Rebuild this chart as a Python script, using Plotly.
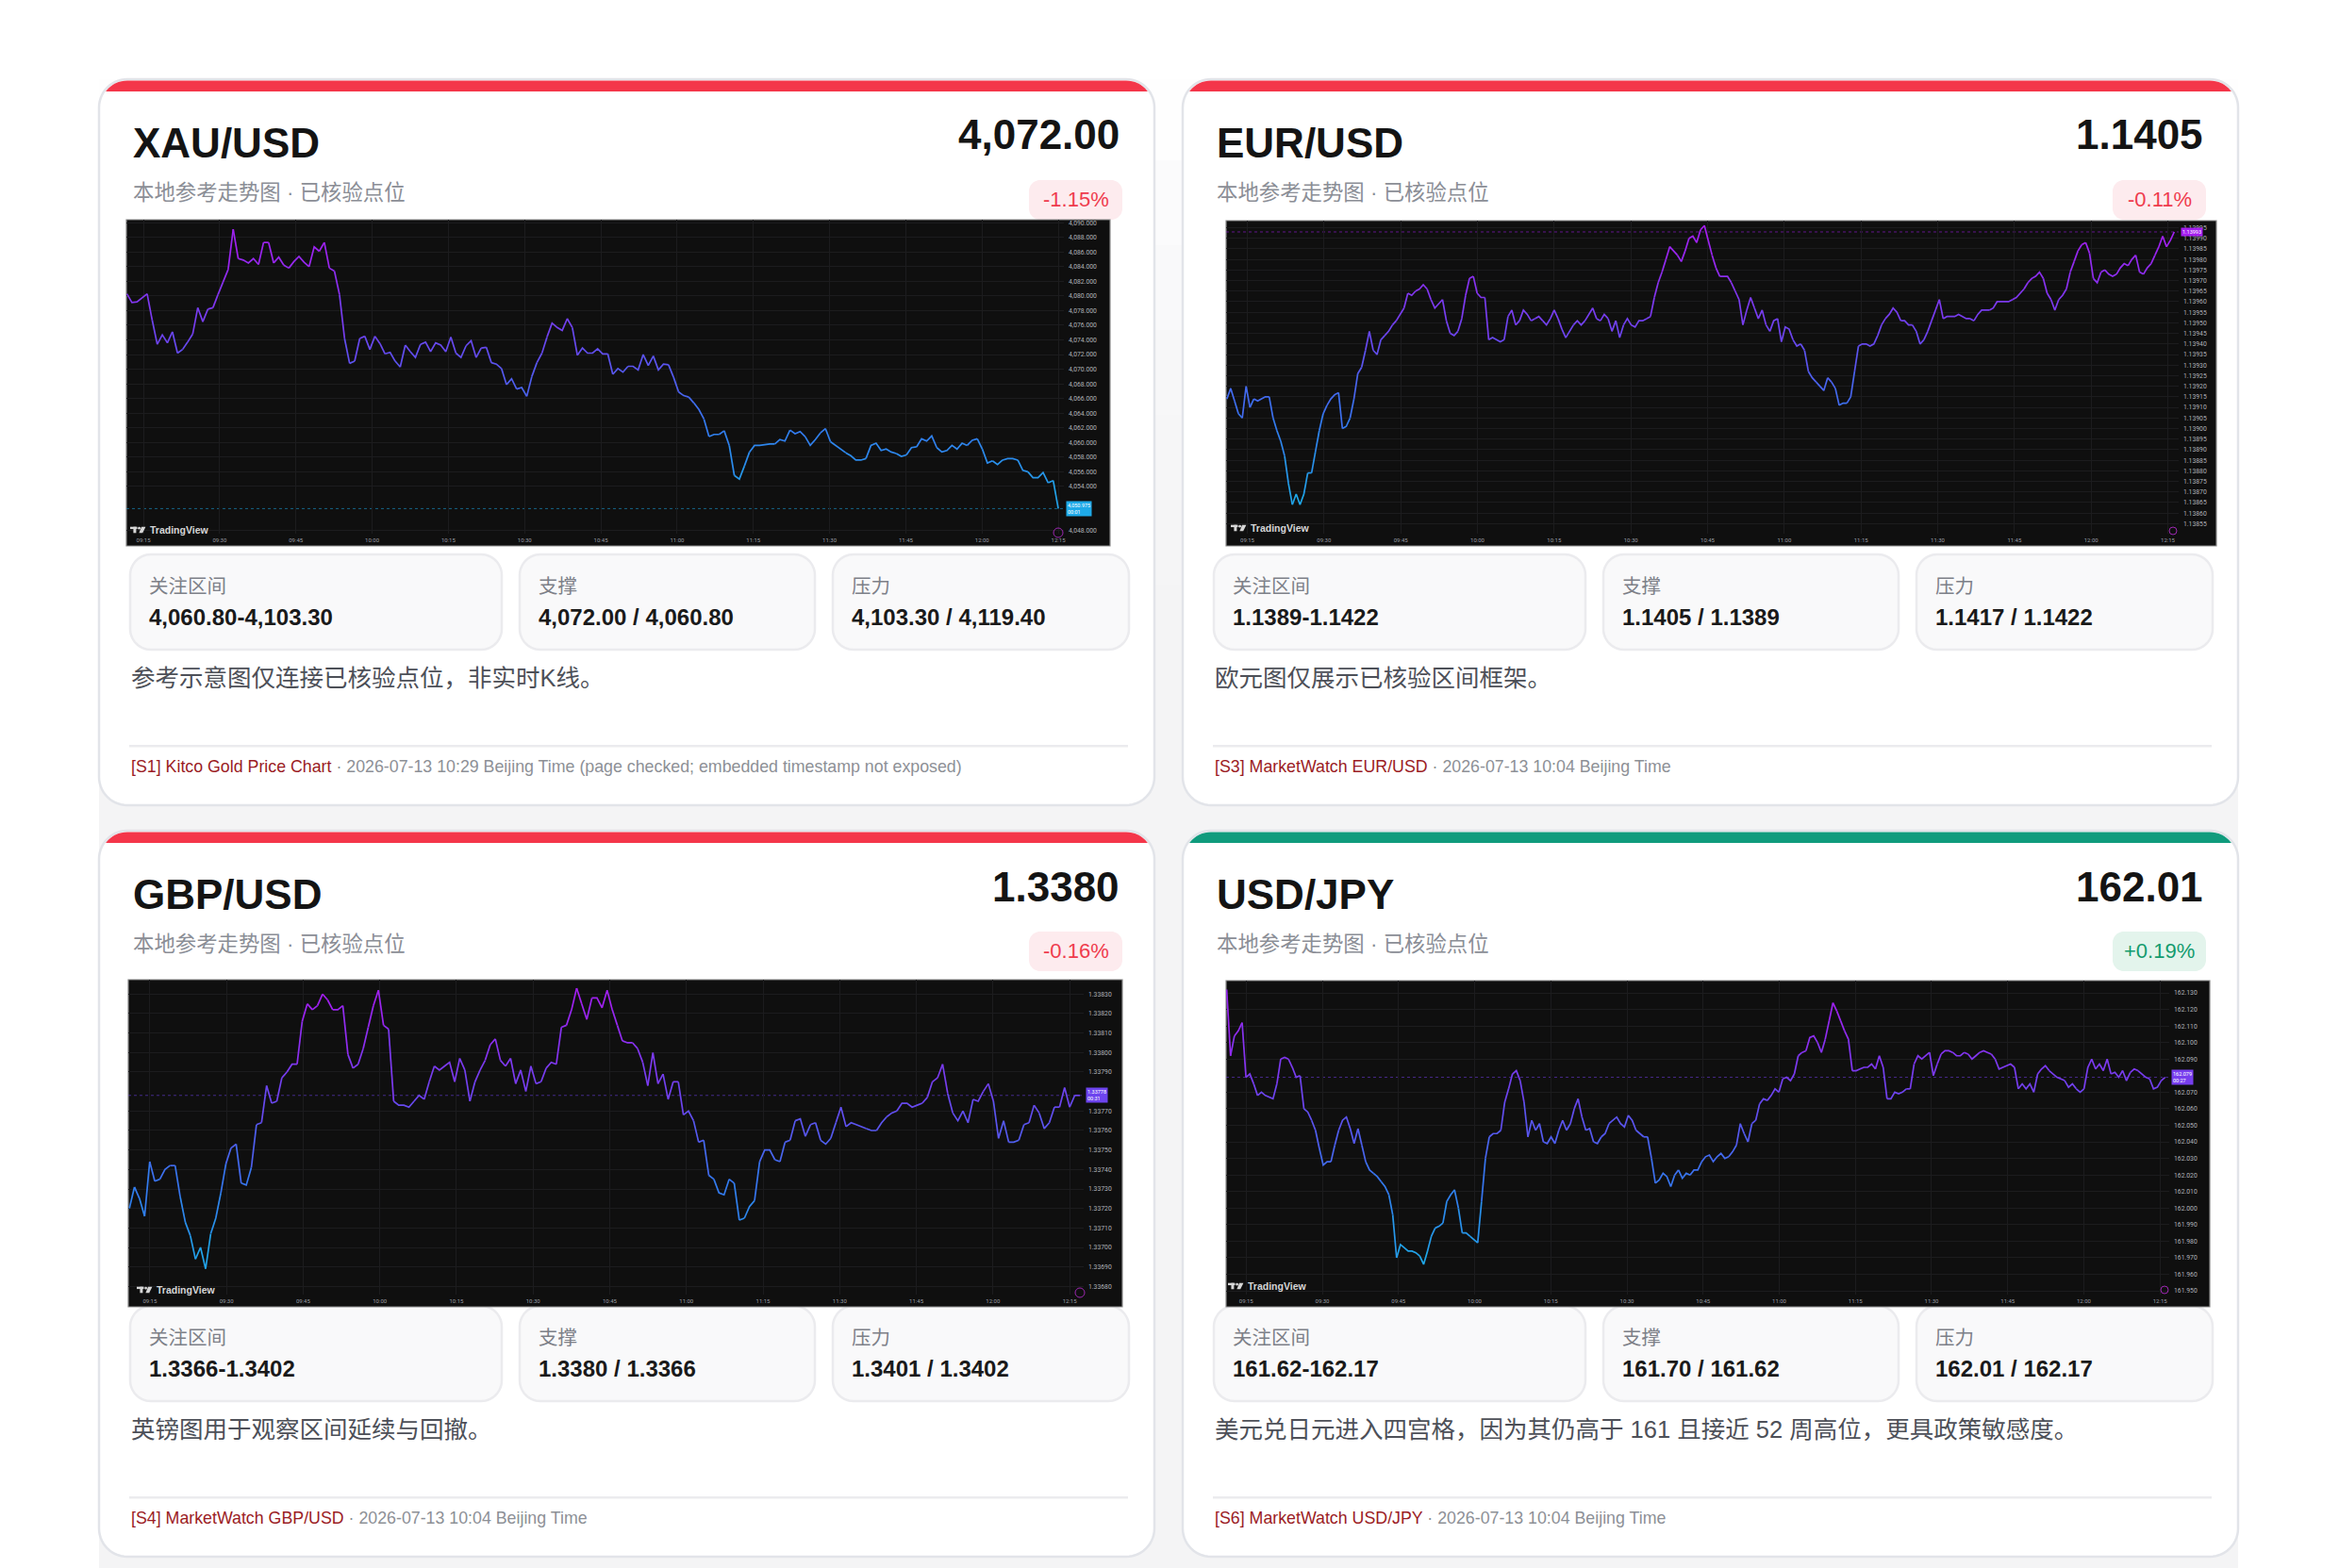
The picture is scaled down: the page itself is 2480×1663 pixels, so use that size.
import numpy as np
import pandas as pd
import plotly.graph_objects as go

W, H = 2480, 1663

# ------------------------------------------------------------------ data
pair_names = ["XAU/USD", "EUR/USD", "GBP/USD", "USD/JPY"]
last_prices = ["4,072.00", "1.1405", "1.3380", "162.01"]
change_pcts = ["-1.15%", "-0.11%", "-0.16%", "+0.19%"]
subtitle_text = "本地参考走势图 · 已核验点位"
metric_names = ["关注区间", "支撑", "压力"]
focus_ranges = ["4,060.80-4,103.30", "1.1389-1.1422", "1.3366-1.3402", "161.62-162.17"]
support_levels = ["4,072.00 / 4,060.80", "1.1405 / 1.1389", "1.3380 / 1.3366", "161.70 / 161.62"]
resistance_levels = ["4,103.30 / 4,119.40", "1.1417 / 1.1422", "1.3401 / 1.3402", "162.01 / 162.17"]
notes = [
    "参考示意图仅连接已核验点位，非实时K线。",
    "欧元图仅展示已核验区间框架。",
    "英镑图用于观察区间延续与回撤。",
    "美元兑日元进入四宫格，因为其仍高于 161 且接近 52 周高位，更具政策敏感度。",
]
source_names = ["[S1] Kitco Gold Price Chart", "[S3] MarketWatch EUR/USD",
                "[S4] MarketWatch GBP/USD", "[S6] MarketWatch USD/JPY"]
source_times = ["2026-07-13 10:29 Beijing Time (page checked; embedded timestamp not exposed)",
                "2026-07-13 10:04 Beijing Time", "2026-07-13 10:04 Beijing Time",
                "2026-07-13 10:04 Beijing Time"]
countdowns = ["00:01", "", "00:31", "00:27"]

xau_prices = [
    4080.3, 4079.1, 4079.2, 4079.7, 4080.3, 4076.7, 4073.4, 4074.7, 4073.6, 4075.1,
    4072.2, 4072.7, 4073.7, 4074.8, 4078.4, 4076.5, 4078.2, 4078.4, 4080.2, 4081.9,
    4083.6, 4089.1, 4085.1, 4084.9, 4084.5, 4085.1, 4084.3, 4087.3, 4087.3, 4084.5,
    4085.3, 4084.2, 4083.8, 4084.7, 4085.4, 4084.6, 4084.0, 4086.7, 4086.1, 4087.3,
    4083.8, 4083.4, 4080.2, 4074.2, 4070.8, 4071.1, 4074.2, 4074.5, 4072.7, 4074.5,
    4073.5, 4072.1, 4072.3, 4071.1, 4070.3, 4073.3, 4072.4, 4071.6, 4073.4, 4073.7,
    4072.4, 4073.6, 4073.3, 4072.4, 4074.4, 4072.2, 4071.6, 4073.2, 4073.9, 4071.6,
    4072.9, 4073.0, 4070.9, 4070.7, 4070.1, 4067.9, 4068.7, 4067.3, 4067.5, 4066.3,
    4069.0, 4070.9, 4072.2, 4074.4, 4076.3, 4075.7, 4075.3, 4076.9, 4075.7, 4071.9,
    4072.9, 4072.2, 4072.2, 4072.8, 4072.1, 4072.1, 4069.3, 4070.1, 4069.6, 4070.4,
    4070.4, 4069.9, 4072.0, 4070.5, 4071.8, 4069.9, 4070.7, 4070.6, 4068.9, 4066.9,
    4066.4, 4066.2, 4065.4, 4064.5, 4063.2, 4060.8, 4061.1, 4061.1, 4061.6, 4059.6,
    4055.5, 4055.0, 4056.8, 4058.7, 4059.6, 4059.6, 4059.7, 4059.8, 4059.8, 4060.4,
    4060.2, 4061.7, 4061.2, 4061.5, 4060.8, 4059.6, 4060.4, 4061.3, 4061.9, 4060.1,
    4059.6, 4059.0, 4058.6, 4058.2, 4057.6, 4057.6, 4057.8, 4059.6, 4059.9, 4058.9,
    4059.1, 4058.7, 4058.5, 4058.1, 4058.3, 4059.3, 4059.4, 4060.5, 4060.2, 4060.9,
    4059.3, 4058.7, 4058.9, 4059.6, 4059.1, 4059.9, 4059.6, 4060.3, 4060.5, 4059.1,
    4057.2, 4057.5, 4057.0, 4057.6, 4057.8, 4057.8, 4057.6, 4056.2, 4056.0, 4055.2,
    4055.2, 4055.9, 4054.5, 4054.8, 4050.975,
]

eur_prices = [
    1.13914, 1.13919, 1.13913, 1.13907, 1.13905, 1.13920, 1.13910, 1.13914, 1.13913, 1.13914,
    1.13915, 1.13915, 1.13905, 1.13899, 1.13894, 1.13887, 1.13874, 1.13864, 1.13869, 1.13864,
    1.13869, 1.13879, 1.13879, 1.13889, 1.13899, 1.13907, 1.13911, 1.13914, 1.13916, 1.13917,
    1.13900, 1.13901, 1.13905, 1.13914, 1.13926, 1.13929, 1.13937, 1.13946, 1.13937, 1.13935,
    1.13942, 1.13944, 1.13946, 1.13949, 1.13951, 1.13954, 1.13957, 1.13964, 1.13963, 1.13965,
    1.13966, 1.13968, 1.13966, 1.13961, 1.13957, 1.13959, 1.13961, 1.13951, 1.13945, 1.13944,
    1.13946, 1.13952, 1.13963, 1.13971, 1.13972, 1.13964, 1.13962, 1.13962, 1.13942, 1.13943,
    1.13942, 1.13941, 1.13942, 1.13953, 1.13956, 1.13949, 1.13951, 1.13956, 1.13954, 1.13951,
    1.13952, 1.13953, 1.13951, 1.13949, 1.13952, 1.13956, 1.13952, 1.13947, 1.13943, 1.13946,
    1.13949, 1.13951, 1.13949, 1.13951, 1.13954, 1.13957, 1.13952, 1.13951, 1.13954, 1.13952,
    1.13946, 1.13951, 1.13943, 1.13949, 1.13952, 1.13949, 1.13948, 1.13951, 1.13951, 1.13952,
    1.13953, 1.13962, 1.13969, 1.13974, 1.13980, 1.13986, 1.13984, 1.13982, 1.13979, 1.13984,
    1.13990, 1.13991, 1.13988, 1.13994, 1.13996, 1.13989, 1.13982, 1.13976, 1.13972, 1.13972,
    1.13972, 1.13969, 1.13965, 1.13961, 1.13949, 1.13956, 1.13962, 1.13957, 1.13952, 1.13956,
    1.13949, 1.13946, 1.13951, 1.13952, 1.13941, 1.13948, 1.13947, 1.13942, 1.13939, 1.13940,
    1.13937, 1.13927, 1.13924, 1.13922, 1.13920, 1.13918, 1.13924, 1.13922, 1.13919, 1.13911,
    1.13912, 1.13912, 1.13915, 1.13927, 1.13939, 1.13940, 1.13940, 1.13939, 1.13940, 1.13944,
    1.13949, 1.13952, 1.13954, 1.13957, 1.13955, 1.13951, 1.13951, 1.13949, 1.13949, 1.13946,
    1.13940, 1.13942, 1.13946, 1.13951, 1.13956, 1.13961, 1.13952, 1.13953, 1.13953, 1.13953,
    1.13954, 1.13953, 1.13952, 1.13952, 1.13951, 1.13954, 1.13956, 1.13956, 1.13956, 1.13957,
    1.13960, 1.13960, 1.13960, 1.13960, 1.13961, 1.13962, 1.13964, 1.13966, 1.13969, 1.13971,
    1.13972, 1.13974, 1.13971, 1.13964, 1.13961, 1.13956, 1.13961, 1.13963, 1.13966, 1.13974,
    1.13979, 1.13984, 1.13987, 1.13988, 1.13983, 1.13971, 1.13969, 1.13974, 1.13975, 1.13973,
    1.13972, 1.13973, 1.13976, 1.13978, 1.13977, 1.13980, 1.13982, 1.13974, 1.13973, 1.13976,
    1.13978, 1.13982, 1.13986, 1.13991, 1.13986, 1.13989, 1.13993,
]

gbp_prices = [
    1.33720, 1.33731, 1.33725, 1.33716, 1.33744, 1.33734, 1.33735, 1.33740, 1.33742, 1.33742,
    1.33726, 1.33713, 1.33706, 1.33694, 1.33700, 1.33689, 1.33707, 1.33715, 1.33728, 1.33743,
    1.33751, 1.33753, 1.33733, 1.33732, 1.33741, 1.33763, 1.33764, 1.33783, 1.33774, 1.33775,
    1.33787, 1.33790, 1.33794, 1.33794, 1.33816, 1.33825, 1.33822, 1.33824, 1.33830, 1.33827,
    1.33822, 1.33822, 1.33824, 1.33799, 1.33792, 1.33794, 1.33802, 1.33813, 1.33824, 1.33832,
    1.33814, 1.33812, 1.33775, 1.33773, 1.33773, 1.33772, 1.33775, 1.33778, 1.33776, 1.33785,
    1.33793, 1.33791, 1.33793, 1.33795, 1.33785, 1.33797, 1.33791, 1.33775, 1.33785, 1.33791,
    1.33796, 1.33804, 1.33807, 1.33796, 1.33793, 1.33797, 1.33784, 1.33791, 1.33780, 1.33793,
    1.33784, 1.33785, 1.33792, 1.33795, 1.33794, 1.33813, 1.33814, 1.33822, 1.33833, 1.33825,
    1.33817, 1.33828, 1.33828, 1.33823, 1.33832, 1.33822, 1.33814, 1.33806, 1.33805, 1.33805,
    1.33802, 1.33795, 1.33783, 1.33800, 1.33784, 1.33789, 1.33776, 1.33785, 1.33785, 1.33768,
    1.33770, 1.33765, 1.33754, 1.33755, 1.33737, 1.33735, 1.33728, 1.33727, 1.33735, 1.33733,
    1.33714, 1.33715, 1.33721, 1.33724, 1.33744, 1.33750, 1.33750, 1.33745, 1.33744, 1.33754,
    1.33755, 1.33765, 1.33766, 1.33757, 1.33763, 1.33764, 1.33755, 1.33753, 1.33756, 1.33764,
    1.33772, 1.33762, 1.33764, 1.33763, 1.33762, 1.33761, 1.33760, 1.33760, 1.33764, 1.33767,
    1.33769, 1.33770, 1.33774, 1.33774, 1.33772, 1.33773, 1.33774, 1.33777, 1.33785, 1.33787,
    1.33794, 1.33779, 1.33769, 1.33765, 1.33770, 1.33764, 1.33776, 1.33775, 1.33780, 1.33784,
    1.33775, 1.33756, 1.33765, 1.33754, 1.33754, 1.33755, 1.33763, 1.33764, 1.33773, 1.33769,
    1.33761, 1.33764, 1.33772, 1.33772, 1.33782, 1.33772, 1.33778, 1.33778,
]

jpy_prices = [
    162.132, 162.092, 162.104, 162.107, 162.112, 162.079, 162.081, 162.075, 162.068, 162.070,
    162.068, 162.067, 162.066, 162.075, 162.090, 162.091, 162.090, 162.085, 162.079, 162.080,
    162.060, 162.058, 162.053, 162.047, 162.036, 162.026, 162.028, 162.028, 162.038, 162.047,
    162.053, 162.055, 162.048, 162.039, 162.048, 162.038, 162.028, 162.023, 162.021, 162.019,
    162.016, 162.013, 162.008, 161.996, 161.970, 161.978, 161.976, 161.974, 161.974, 161.973,
    161.971, 161.966, 161.974, 161.983, 161.988, 161.989, 161.991, 162.004, 162.008, 162.011,
    162.000, 161.985, 161.985, 161.983, 161.981, 161.979, 162.004, 162.030, 162.043, 162.045,
    162.045, 162.047, 162.064, 162.072, 162.081, 162.083, 162.077, 162.064, 162.043, 162.053,
    162.047, 162.051, 162.040, 162.039, 162.043, 162.039, 162.047, 162.053, 162.047, 162.051,
    162.060, 162.066, 162.055, 162.047, 162.048, 162.040, 162.039, 162.043, 162.045, 162.051,
    162.053, 162.055, 162.051, 162.049, 162.056, 162.053, 162.047, 162.045, 162.043, 162.043,
    162.030, 162.015, 162.017, 162.021, 162.019, 162.013, 162.020, 162.023, 162.018, 162.021,
    162.020, 162.023, 162.023, 162.028, 162.031, 162.032, 162.028, 162.031, 162.033, 162.030,
    162.031, 162.034, 162.038, 162.051, 162.045, 162.040, 162.051, 162.053, 162.063, 162.066,
    162.065, 162.068, 162.072, 162.070, 162.078, 162.079, 162.077, 162.081, 162.092, 162.094,
    162.095, 162.103, 162.104, 162.100, 162.094, 162.102, 162.113, 162.124, 162.119, 162.113,
    162.107, 162.102, 162.083, 162.083, 162.084, 162.085, 162.085, 162.087, 162.084, 162.092,
    162.085, 162.066, 162.066, 162.070, 162.069, 162.070, 162.072, 162.072, 162.087, 162.092,
    162.090, 162.092, 162.094, 162.080, 162.087, 162.093, 162.095, 162.095, 162.094, 162.092,
    162.092, 162.094, 162.093, 162.090, 162.092, 162.094, 162.095, 162.094, 162.093, 162.090,
    162.084, 162.085, 162.086, 162.087, 162.085, 162.072, 162.075, 162.072, 162.075, 162.070,
    162.081, 162.084, 162.086, 162.083, 162.081, 162.079, 162.078, 162.077, 162.073, 162.075,
    162.072, 162.070, 162.072, 162.085, 162.090, 162.084, 162.087, 162.083, 162.090, 162.081,
    162.082, 162.079, 162.083, 162.077, 162.082, 162.084, 162.083, 162.081, 162.079, 162.078,
    162.072, 162.073, 162.077, 162.079,
]

series_values = [xau_prices, eur_prices, gbp_prices, jpy_prices]
series_windows = [
    ("2026-07-13 09:11:45", "2026-07-13 12:15:00"),
    ("2026-07-13 09:11:00", "2026-07-13 12:16:15"),
    ("2026-07-13 09:11:00", "2026-07-13 12:17:00"),
    ("2026-07-13 09:11:10", "2026-07-13 12:16:00"),
]
first_time_tick = "2026-07-13 09:15:00"
price_formats = [",.3f", ".5f", ".5f", ".3f"]
price_dticks = [2, 0.00005, 0.0001, 0.01]
price_tick0 = [4048, 1.13855, 1.3368, 161.95]
trend_up = [False, False, False, True]

# ------------------------------------------------------------------ geometry (pixels)
FONT = "Liberation Sans, Arial, Noto Sans CJK SC, sans-serif"
BASE = pd.Timestamp(first_time_tick)

cards = [(105, 84, 1224, 854), (1254, 84, 2373, 854),
         (105, 881, 1224, 1651), (1254, 881, 2373, 1651)]
row_off = [0, 0, 797, 797]

chart_geo = [
    dict(box=(134, 233, 1177, 579), dom_r=1128, dom_b=566, x915=152.0, ppm=5.389,
         vref=4090.0, yref=236.2, ppv=7.77, logo=(138, 562), bolt=(1122, 565, 5)),
    dict(box=(1300, 234, 2350, 579), dom_r=2310, dom_b=566, x915=1322.5, ppm=5.422,
         vref=1.13995, yref=241.5, ppv=224200.0, logo=(1305, 560), bolt=(2304, 563, 4)),
    dict(box=(136, 1039, 1190, 1386), dom_r=1149, dom_b=1373, x915=158.8, ppm=5.418,
         vref=1.33830, yref=1054.3, ppv=206700.0, logo=(145, 1368), bolt=(1145, 1371, 5)),
    dict(box=(1300, 1040, 2343, 1386), dom_r=2300, dom_b=1373, x915=1321.2, ppm=5.383,
         vref=162.130, yref=1053.0, ppv=1756.0, logo=(1302, 1364), bolt=(2295, 1368, 4)),
]


def X(px):
    return px / W


def Y(py):
    return 1.0 - py / H


def path_from(pts):
    return "M " + " L ".join(f"{X(x):.6f},{Y(y):.6f}" for x, y in pts) + " Z"


def rounded_pts(x0, y0, x1, y1, r, n=14):
    pts = []
    for cx, cy, a0 in ((x1 - r, y0 + r, -90), (x1 - r, y1 - r, 0),
                       (x0 + r, y1 - r, 90), (x0 + r, y0 + r, 180)):
        for k in range(n + 1):
            a = np.radians(a0 + 90.0 * k / n)
            pts.append((cx + r * np.cos(a), cy + r * np.sin(a)))
    return pts


def clip_above(pts, yb):
    out = []
    n = len(pts)
    for i in range(n):
        p, q = pts[i], pts[(i + 1) % n]
        pin, qin = p[1] <= yb, q[1] <= yb
        if pin:
            out.append(p)
        if pin != qin:
            t = (yb - p[1]) / (q[1] - p[1])
            out.append((p[0] + t * (q[0] - p[0]), yb))
    return out


STOPS = [(0.0, (30, 170, 232)), (0.3, (52, 120, 238)), (0.6, (106, 70, 238)), (1.0, (168, 28, 240))]


def grad(t):
    t = min(max(t, 0.0), 1.0)
    for (t0, c0), (t1, c1) in zip(STOPS[:-1], STOPS[1:]):
        if t <= t1:
            f = (t - t0) / (t1 - t0)
            return "rgb(%d,%d,%d)" % tuple(round(a + (b - a) * f) for a, b in zip(c0, c1))
    return "rgb(%d,%d,%d)" % STOPS[-1][1]


def with_alpha(rgb, a):
    return rgb.replace("rgb(", "rgba(").replace(")", f",{a})")


shapes = []
annotations = []


def add_path(pts, fill, line_color=None, line_width=0, layer="below"):
    shapes.append(dict(type="path", path=path_from(pts), xref="paper", yref="paper",
                       fillcolor=fill, layer=layer,
                       line=dict(color=line_color or fill, width=line_width)))


def add_rect(x0, y0, x1, y1, fill, line_color=None, line_width=0, layer="below"):
    shapes.append(dict(type="rect", xref="paper", yref="paper", x0=X(x0), x1=X(x1),
                       y0=Y(y1), y1=Y(y0), fillcolor=fill, layer=layer,
                       line=dict(color=line_color or fill, width=line_width)))


def add_text(px, py, s, size, color, anchor="left", weight=400, family=FONT):
    annotations.append(dict(x=X(px), y=Y(py), xref="paper", yref="paper", text=s,
                            showarrow=False, xanchor=anchor, yanchor="middle",
                            font=dict(size=size, color=color, family=family, weight=weight)))


# ------------------------------------------------------------------ page background (soft shadow area)
band_cols = ["#fefefe", "#fbfbfc", "#f9f9fa", "#f7f7f8", "#f6f6f7", "#f5f5f6", "#f4f4f5"]
band_edges = [84, 170, 260, 350, 440, 530, 620, 1663]
for i, c in enumerate(band_cols):
    add_rect(105, band_edges[i], 2373, band_edges[i + 1], c)

# ------------------------------------------------------------------ cards
for i, (l, t, r, b) in enumerate(cards):
    dy = row_off[i]
    add_path(rounded_pts(l, t, r, b, 30), "#ffffff", "#e2e4e9", 2.5)
    bar = clip_above(rounded_pts(l + 1.5, t + 1.5, r - 1.5, b - 1.5, 28.5), t + 13)
    add_path(bar, "#109b7d" if trend_up[i] else "#f4364a")

    # header
    add_text(l + 34, 151 + dy, pair_names[i], 44, "#141414", weight=700)
    add_text(l + 1084, 143 + dy, last_prices[i], 44, "#141414", anchor="right", weight=700)
    add_text(l + 34, 205 + dy, subtitle_text, 22.4, "#8b8e96")
    badge_fill = "#e3f4ec" if trend_up[i] else "#fdebee"
    badge_txt = "#139b6e" if trend_up[i] else "#ef3b4d"
    add_path(rounded_pts(l + 986, 191 + dy, l + 1085, 233 + dy, 12), badge_fill)
    add_text(l + 1035.5, 211 + dy, change_pcts[i], 22, badge_txt, anchor="center")

    # metric boxes
    boxes = [(l + 33, l + 427), (l + 446, l + 759), (l + 778, l + 1092)]
    vals = [focus_ranges[i], support_levels[i], resistance_levels[i]]
    for (bx0, bx1), name, val in zip(boxes, metric_names, vals):
        add_path(rounded_pts(bx0, 588 + dy, bx1, 689 + dy, 22), "#f9f9fa", "#ebebee", 2.5)
        add_text(bx0 + 18, 621 + dy, name, 20.5, "#7d8088")
        add_text(bx0 + 18, 654 + dy, val, 24, "#1a1a1a", weight=700)

    # note, separator, source
    add_text(l + 32, 719 + dy, notes[i], 25.5, "#4d5058")
    add_rect(l + 32, 790 + dy, l + 1091, 792.5 + dy, "#ebebee")
    add_text(l + 32, 813 + dy,
             f"<span style='color:#9b1c24'>{source_names[i]}</span> · {source_times[i]}",
             17.8, "#8d9096")

# ------------------------------------------------------------------ charts
fig = go.Figure()
layout_axes = {}
GRID = "#1c1c1e"

for n, (geo, vals) in enumerate(zip(chart_geo, series_values), start=1):
    xa = "x" if n == 1 else f"x{n}"
    ya = "y" if n == 1 else f"y{n}"
    l, t, r, b = geo["box"]
    add_rect(l, t, r, b, "#0f0f0f", "#8a8a8a", 1.2)

    start, end = series_windows[n - 1]
    times = [ts.strftime("%Y-%m-%d %H:%M:%S.%f") for ts in pd.date_range(start, end, periods=len(vals))]
    v = np.asarray(vals, dtype=float)
    lo, hi = v.min(), v.max()
    nb = 30
    mids = (v[:-1] + v[1:]) / 2.0
    bins = np.minimum(((mids - lo) / (hi - lo) * nb).astype(int), nb - 1)
    groups = {k: ([], []) for k in range(nb)}
    i = 0
    while i < len(bins):
        j = i
        while j + 1 < len(bins) and bins[j + 1] == bins[i]:
            j += 1
        gx, gy = groups[int(bins[i])]
        gx.extend(times[i:j + 2])
        gy.extend(v[i:j + 2].tolist())
        gx.append(None)
        gy.append(None)
        i = j + 1
    for k, (gx, gy) in groups.items():
        if gx:
            fig.add_trace(go.Scatter(x=gx, y=gy, mode="lines",
                                     line=dict(color=grad((k + 0.5) / nb), width=1.7),
                                     xaxis=xa, yaxis=ya, hoverinfo="skip", showlegend=False))

    x0 = BASE + pd.Timedelta(minutes=(l - geo["x915"]) / geo["ppm"])
    x1 = BASE + pd.Timedelta(minutes=(geo["dom_r"] - geo["x915"]) / geo["ppm"])
    ylo = geo["vref"] - (geo["dom_b"] - geo["yref"]) / geo["ppv"]
    yhi = geo["vref"] + (geo["yref"] - t) / geo["ppv"]

    # price-scale ticks; the one hidden behind the last-price label is left out (as on the source chart)
    last = vals[-1]
    two_line = bool(countdowns[n - 1])
    gap_px = 8.5 if two_line else 3.0
    dt = price_dticks[n - 1]
    tv = []
    k = 0
    while True:
        val = price_tick0[n - 1] + k * dt
        if val > yhi:
            break
        if val >= ylo and abs(val - last) * geo["ppv"] > gap_px:
            tv.append(round(val, 6))
        k += 1

    layout_axes["xaxis" if n == 1 else f"xaxis{n}"] = dict(
        domain=[X(l), X(geo["dom_r"])], anchor=ya, type="date",
        range=[x0.strftime("%Y-%m-%d %H:%M:%S"), x1.strftime("%Y-%m-%d %H:%M:%S")],
        dtick=15 * 60 * 1000, tick0=first_time_tick, tickformat="%H:%M",
        showgrid=True, gridcolor=GRID, gridwidth=1, zeroline=False, showline=False,
        ticks="", ticklen=0, ticklabelstandoff=2, automargin=False, fixedrange=True,
        tickfont=dict(family="Roboto", size=6, color="#9a9da3"))
    layout_axes["yaxis" if n == 1 else f"yaxis{n}"] = dict(
        domain=[Y(geo["dom_b"]), Y(t)], anchor=xa, side="right", range=[ylo, yhi],
        tickmode="array", tickvals=tv, tickformat=price_formats[n - 1],
        showgrid=True, gridcolor=GRID, gridwidth=1, zeroline=False, showline=False,
        ticks="", ticklen=0, ticklabelstandoff=4, automargin=False, fixedrange=True,
        tickfont=dict(family="Roboto", size=6.8, color="#b0b3b9"))

    # last price line + label
    lc = grad((last - lo) / (hi - lo))
    shapes.append(dict(type="line", xref=f"{xa} domain", yref=ya, x0=0, x1=1, y0=last, y1=last,
                       line=dict(color=with_alpha(lc, 0.55), width=1, dash="dot"), layer="below"))
    label = format(last, price_formats[n - 1])
    if two_line:
        label += "<br>" + countdowns[n - 1]
    annotations.append(dict(xref=f"{xa} domain", x=1, xshift=2, xanchor="left",
                            yref=ya, y=last, yanchor="middle", text=label, showarrow=False,
                            bgcolor=lc, borderpad=1, align="left",
                            font=dict(size=5.5, color="#ffffff", family="Roboto")))

    # TradingView watermark
    lx, ly = geo["logo"]
    add_rect(lx, ly - 3.3, lx + 7.5, ly - 0.9, "#d6d6d6", layer="above")
    add_rect(lx + 3.4, ly - 3.3, lx + 6.4, ly + 3.3, "#d6d6d6", layer="above")
    shapes.append(dict(type="circle", xref="paper", yref="paper", x0=X(lx + 8.2), x1=X(lx + 11.0),
                       y0=Y(ly - 0.4), y1=Y(ly - 3.2), fillcolor="#d6d6d6",
                       line=dict(width=0), layer="above"))
    add_path([(lx + 12.0, ly - 3.3), (lx + 16.4, ly - 3.3), (lx + 13.2, ly + 3.3), (lx + 9.4, ly + 3.3)],
             "#d6d6d6", layer="above")
    add_text(lx + 19, ly, "TradingView", 10.5, "#d6d6d6", weight=700)

    # small lightning badge
    bx, by, br = geo["bolt"]
    shapes.append(dict(type="circle", xref="paper", yref="paper", x0=X(bx - br), x1=X(bx + br),
                       y0=Y(by + br), y1=Y(by - br), line=dict(color="#9c27b0", width=1),
                       fillcolor="rgba(0,0,0,0)", layer="above"))

fig.update_layout(
    width=W, height=H, margin=dict(l=0, r=0, t=0, b=0, pad=0),
    paper_bgcolor="#ffffff", plot_bgcolor="rgba(0,0,0,0)",
    shapes=shapes, annotations=annotations, showlegend=False,
    font=dict(family=FONT), **layout_axes,
)

fig.write_html("out.html", config={"displayModeBar": False, "staticPlot": True},
               post_script="document.body.style.margin='0px';")
